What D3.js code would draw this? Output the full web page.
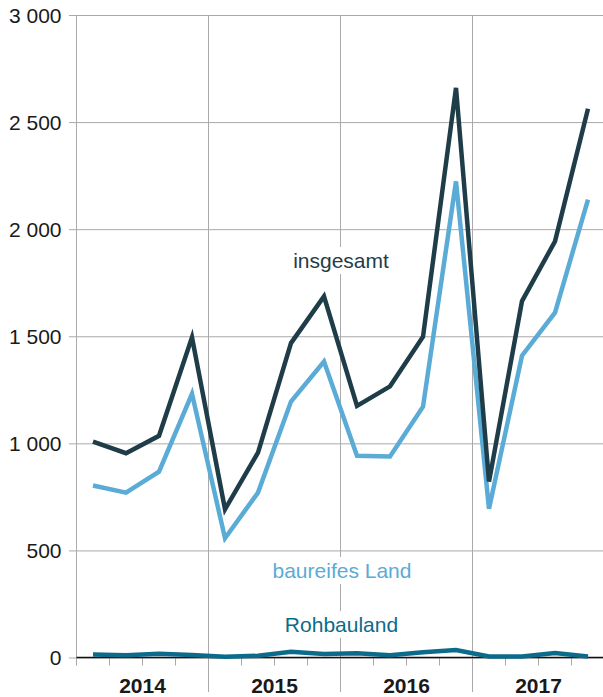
<!DOCTYPE html>
<html>
<head>
<meta charset="utf-8">
<script src="https://cdn.jsdelivr.net/npm/d3@7"></script>
<style>
  body { margin: 0; background: #fff; }
  svg { display: block; font-family: "Liberation Sans", Arial, sans-serif; }
</style>
</head>
<body>
<svg id="chart" width="603" height="697"></svg>
<script>
// quarterly values, 2014 Q1 .. 2017 Q4
var years = ["2014", "2015", "2016", "2017"];
var quarters = ["Q1", "Q2", "Q3", "Q4"];
var insgesamt = [1008, 954, 1035, 1495, 692, 957, 1468, 1686, 1175, 1266, 1498, 2660, 821, 1664, 1943, 2562];
var baureifes = [803, 770, 868, 1231, 557, 770, 1195, 1382, 942, 939, 1171, 2223, 695, 1409, 1610, 2138];
var rohbau = [14, 11, 18, 12, 4, 8, 27, 16, 20, 10, 24, 35, 5, 5, 21, 5];
var yTicks = [0, 500, 1000, 1500, 2000, 2500, 3000];

var series = [
    { name: "insgesamt", values: insgesamt, color: "#1f3d49", labelX: 341, labelY: 268 },
    { name: "baureifes Land", values: baureifes, color: "#5aabd5", labelX: 342, labelY: 578 },
    { name: "Rohbauland", values: rohbau, color: "#0c6b8b", labelX: 341.5, labelY: 632 }
];

// plot box (named so as not to clash with window.top)
var plotLeft = 76.5, plotRight = 604.5, plotTop = 15, plotBottom = 657.5;
var svg = d3.select("#chart");

// one band per quarter
var periods = [];
years.forEach(function (yr) {
    quarters.forEach(function (q) { periods.push(yr + q); });
});
var x = d3.scaleBand().domain(periods).range([plotLeft, plotRight]);
var xYear = d3.scaleBand().domain(years).range([plotLeft, plotRight]);
var y = d3.scaleLinear().domain([0, 3000]).range([plotBottom, plotTop]);

var fmt = function (d) { return d3.format(",")(d).replace(",", " "); };

// horizontal grid + y labels
var yAxis = svg.append("g")
    .attr("transform", "translate(" + plotLeft + ",0)")
    .call(d3.axisLeft(y).tickValues(yTicks).tickSize(-(plotRight - plotLeft)).tickPadding(15).tickFormat(fmt));
yAxis.select(".domain").remove();
yAxis.attr("font-family", null).attr("font-size", null);
yAxis.selectAll(".tick line").attr("stroke", "#aaa").attr("x1", -7.5);
yAxis.selectAll(".tick text")
    .attr("fill", "#1a1a1a")
    .style("font-size", "21px")
    .attr("dy", "0.35em");

// quarter ticks under the axis
svg.append("g")
    .selectAll("line")
    .data(periods)
    .enter().append("line")
    .attr("x1", function (d) { return x(d); })
    .attr("x2", function (d) { return x(d); })
    .attr("y1", plotBottom)
    .attr("y2", plotBottom + 8)
    .attr("stroke", "#aaa");

// year separators, full height
var yearEdges = years.map(function (d) { return xYear(d); });
svg.append("g")
    .selectAll("line")
    .data(yearEdges)
    .enter().append("line")
    .attr("x1", function (d) { return d; })
    .attr("x2", function (d) { return d; })
    .attr("y1", plotTop)
    .attr("y2", function (d, i) { return i == 0 ? plotBottom + 8 : 692; })
    .attr("stroke", "#aaa");

// year labels
svg.append("g")
    .selectAll("text")
    .data(years)
    .enter().append("text")
    .attr("x", function (d) { return xYear(d) + xYear.bandwidth() / 2; })
    .attr("y", 693)
    .attr("text-anchor", "middle")
    .attr("font-weight", "bold")
    .attr("fill", "#1a1a1a")
    .style("font-size", "21px")
    .text(function (d) { return d; });

// zero line
svg.append("line")
    .attr("x1", plotLeft).attr("x2", plotRight)
    .attr("y1", y(0)).attr("y2", y(0))
    .attr("stroke", "#111").attr("stroke-width", 1.5);

// series labels with white box so the grid breaks behind them
series.forEach(function (s) {
    var g = svg.append("g");
    var t = g.append("text")
        .attr("x", s.labelX)
        .attr("y", s.labelY)
        .attr("text-anchor", "middle")
        .attr("fill", s.color)
        .style("font-size", "21px")
        .text(s.name);
    var bb = t.node().getBBox();
    g.insert("rect", "text")
        .attr("x", bb.x - 4).attr("y", bb.y - 2)
        .attr("width", bb.width + 8).attr("height", bb.height + 4)
        .attr("fill", "#fff");
});

// lines
var line = d3.line()
    .x(function (d, i) { return x(periods[i]) + x.bandwidth() / 2; })
    .y(function (d) { return y(d); });

series.slice().reverse().forEach(function (s) {
    svg.append("path")
        .datum(s.values)
        .attr("d", line)
        .attr("fill", "none")
        .attr("stroke", s.color)
        .attr("stroke-width", 4.5)
        .attr("stroke-linejoin", "miter");
});
</script>
</body>
</html>
